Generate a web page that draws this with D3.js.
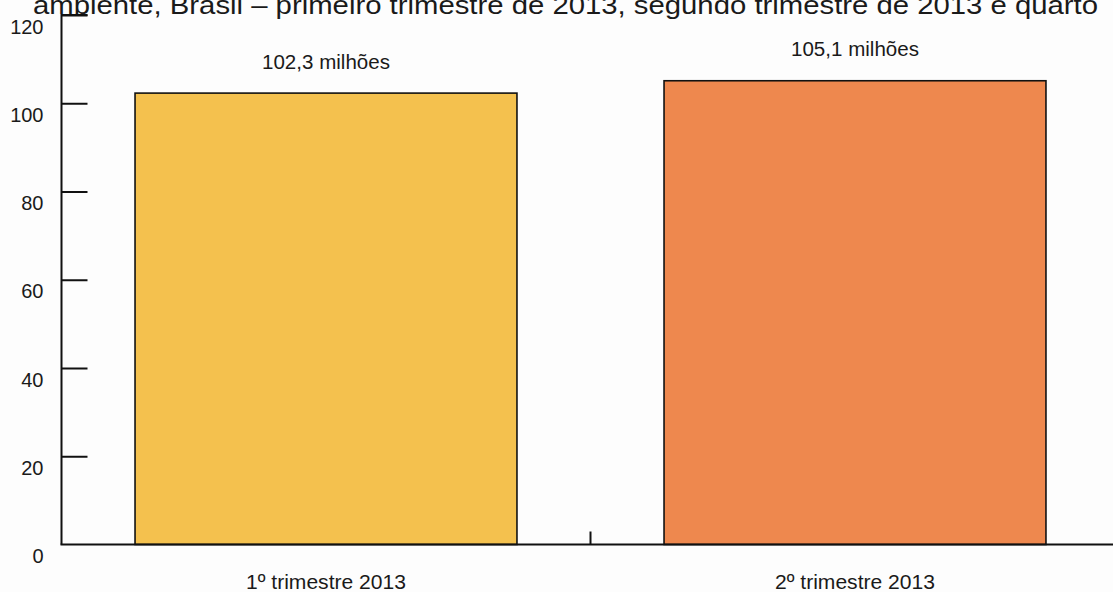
<!DOCTYPE html>
<html>
<head>
<meta charset="utf-8">
<script src="https://cdn.jsdelivr.net/npm/d3@7"></script>
<style>
  html, body { margin: 0; padding: 0; background: #fdfdfd; }
  svg { display: block; }
  text { font-family: "Liberation Sans", Arial, sans-serif; fill: #1a1a1a; }
</style>
</head>
<body>
<svg id="chart" width="1113" height="592"></svg>
<script>
// Population figures (millions) by quarter
const categories = ["1º trimestre 2013", "2º trimestre 2013"];
const values = [102.3, 105.1];
const valueLabels = ["102,3 milhões", "105,1 milhões"];
const barColors = ["#F4C14E", "#EE884E"];
const yTicks = [0, 20, 40, 60, 80, 100, 120];
const titleText = "ambiente, Brasil – primeiro trimestre de 2013, segundo trimestre de 2013 e quarto";

const svg = d3.select("#chart");
const W = 1113, H = 592;
const axisX = 61.5, baseY = 544.5, topY = 15;

const x = d3.scaleBand()
  .domain(categories)
  .range([axisX, 1119.5])
  .paddingInner(0.278)
  .paddingOuter(0.139);

const y = d3.scaleLinear().domain([0, 120]).range([baseY, topY]);

// Title line (runs past the top edge of the frame)
svg.append("text")
  .attr("x", 33)
  .attr("y", 14)
  .attr("textLength", 1065)
  .attr("lengthAdjust", "spacingAndGlyphs")
  .style("font-size", "26px")
  .text(titleText);

// Bars
svg.selectAll("rect.bar")
  .data(values)
  .join("rect")
  .attr("class", "bar")
  .attr("x", (d, i) => x(categories[i]))
  .attr("width", x.bandwidth())
  .attr("y", d => y(d))
  .attr("height", d => y(0) - y(d))
  .attr("fill", (d, i) => barColors[i])
  .attr("stroke", "#111")
  .attr("stroke-width", 1.6);

// Value labels above bars
svg.selectAll("text.val")
  .data(values)
  .join("text")
  .attr("class", "val")
  .attr("x", (d, i) => x(categories[i]) + x.bandwidth() / 2 - 64)
  .attr("y", d => y(d) - 24.5)
  .attr("textLength", 128)
  .attr("lengthAdjust", "spacingAndGlyphs")
  .style("font-size", "19.5px")
  .text((d, i) => valueLabels[i]);

// Y axis: ticks point inward, labels sit slightly below each tick
const yAxis = d3.axisRight(y).tickValues(yTicks).tickSize(26).tickFormat("");
const gy = svg.append("g").attr("transform", `translate(${axisX},0)`).call(yAxis);
gy.select(".domain").attr("stroke", "#111").attr("stroke-width", 2).attr("d", `M26,${topY}H0V${baseY}`);
gy.selectAll(".tick line").attr("stroke", "#111").attr("stroke-width", 2);
gy.selectAll(".tick").filter(d => d === 0).select("line").remove();

svg.selectAll("text.ytick")
  .data(yTicks)
  .join("text")
  .attr("class", "ytick")
  .attr("x", 43.5)
  .attr("y", d => y(d) + 18.5)
  .attr("text-anchor", "end")
  .style("font-size", "20px")
  .text(d => d);

// X axis baseline with a divider tick between the categories
const xAxis = d3.axisBottom(x).tickSize(0).tickFormat("");
const gx = svg.append("g").attr("transform", `translate(0,${baseY})`).call(xAxis);
gx.select(".domain").attr("stroke", "#111").attr("stroke-width", 2).attr("d", `M${axisX - 1},0H${W}`);
gx.selectAll(".tick").remove();

const step = x.step();
const dividerX = x(categories[0]) + x.bandwidth() / 2 + step / 2;
svg.append("line")
  .attr("x1", dividerX)
  .attr("x2", dividerX)
  .attr("y1", baseY)
  .attr("y2", baseY - 13)
  .attr("stroke", "#111")
  .attr("stroke-width", 2);

// Category labels
svg.selectAll("text.cat")
  .data(categories)
  .join("text")
  .attr("class", "cat")
  .attr("x", d => x(d) + x.bandwidth() / 2 - 80)
  .attr("y", 589)
  .attr("textLength", 160)
  .attr("lengthAdjust", "spacingAndGlyphs")
  .style("font-size", "20px")
  .text(d => d);
</script>
</body>
</html>
